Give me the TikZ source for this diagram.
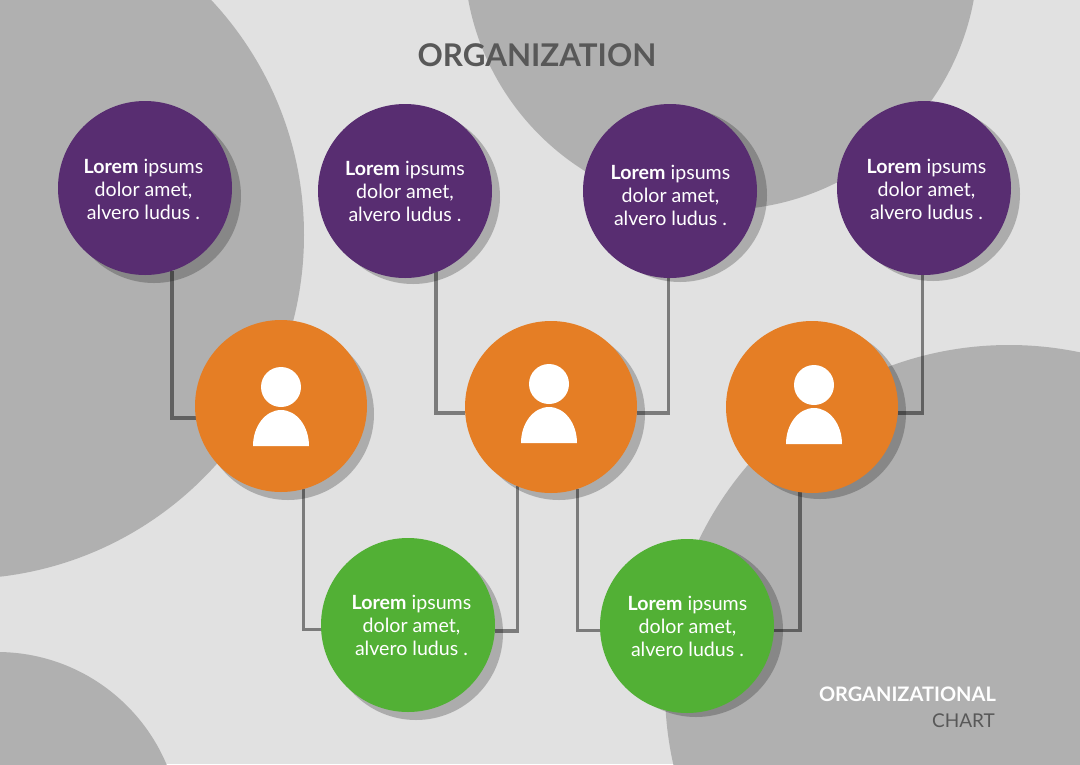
\documentclass[tikz,border=0pt]{standalone}
\usepackage{fontspec}
\setmainfont{Lato}
\usetikzlibrary{calc,backgrounds}
\definecolor{orgpurple}{HTML}{582D71}
\definecolor{orgorange}{HTML}{E57E25}
\definecolor{orggreen}{HTML}{52B035}
\definecolor{orgback}{HTML}{E1E1E1}
\definecolor{orgblob}{HTML}{B0B0B0}
\definecolor{orgtext}{HTML}{585858}
\newcommand{\loremtext}{\textbf{Lorem} ipsums\\dolor amet,\\alvero ludus .}
\tikzset{
  disc/.style={circle, inner sep=0pt, text=white, align=center, font=\fontsize{19.6}{23}\selectfont},
  lorem/.style 2 args={disc, minimum size=174pt, label={[disc, xshift=#1, yshift=#2]center:{\loremtext}}},
  link/.style={draw=black, opacity=0.45, line width=3.5pt},
  blob/.style={fill=orgblob},
  shade/.style={fill=black, opacity=0.23}
}
\begin{document}
\begin{tikzpicture}[x=1pt,y=-1pt]
    \useasboundingbox (0,0) rectangle (1080,764);
    \node(title) [text=orgtext, font=\fontsize{31.3}{36}\selectfont\bfseries] at (537,55) {ORGANIZATION};
    \node(one) [lorem={-1.5pt}{-1.5pt}, fill=orgpurple] at (145,188) {};
    \node(two) [lorem={0pt}{0pt}, fill=orgpurple] at (405,191) {};
    \node(three) [lorem={0.5pt}{-4.5pt}, fill=orgpurple] at (670,191) {};
    \node(four) [lorem={2.5pt}{-1.5pt}, fill=orgpurple] at (924,188) {};
    \node(orgone) [disc, minimum size=172pt, fill=orgorange] at (281,406) {};
    \node(orgtwo) [disc, minimum size=172pt, fill=orgorange] at (551,407) {};
    \node(orgthree) [disc, minimum size=172pt, fill=orgorange] at (812,407) {};
    \node(leafone) [lorem={3.5pt}{0pt}, fill=orggreen] at (408,625) {};
    \node(leaftwo) [lorem={0.5pt}{-0.5pt}, fill=orggreen] at (687,626) {};
    \node(capone) [anchor=east, inner sep=0pt, text=white, font=\fontsize{20}{24}\selectfont\bfseries] at (996,694) {ORGANIZATIONAL};
    \node(captwo) [anchor=east, inner sep=0pt, text=orgtext, font=\fontsize{19}{23}\selectfont] at (995,721) {CHART};
    \foreach \x/\y in {281/387,549/384,814/385} {
      \fill[white] (\x,\y) circle (20);
      \fill[white] (\x-28,\y+59) arc[start angle=180, end angle=360, x radius=28, y radius=36] -- cycle;
    }
    \begin{scope}[on background layer]
      \fill[orgback] (0,0) rectangle (1080,764);
      \begin{scope}
        \clip (0,0) rectangle (1080,764);
        \fill[blob] (-40,235) circle (344);
        \fill[blob] (721,-47) circle (257);
        \fill[blob] (1009,689) circle (344);
        \fill[blob] (-3,836) circle (184);
      \end{scope}
      \foreach \n/\r/\dx/\dy in {one/87/9/8,two/87/8/6,three/87/10/4,four/87/9/6,orgone/86/7/8,orgtwo/86/8/7,orgthree/86/8/6,leafone/87/8/8,leaftwo/87/9/4}
        \fill[shade] ($(\n.center)+(\dx,\dy)$) circle (\r);
      \draw[link] (one.-72.6) |- (orgone.188);
      \draw[link] (two.-69) |- (orgtwo.184);
      \draw[link] (three.-91.3) |- (orgtwo.-4);
      \draw[link] (four.-91) |- (orgthree.-4);
      \draw[link] (orgone.-75.9) |- (leafone.183);
      \draw[link] (orgtwo.-113.3) |- (leafone.-4);
      \draw[link] (orgtwo.-72.4) |- (leaftwo.183);
      \draw[link] (orgthree.-98.7) |- (leaftwo.-3);
    \end{scope}
\end{tikzpicture}
\end{document}
